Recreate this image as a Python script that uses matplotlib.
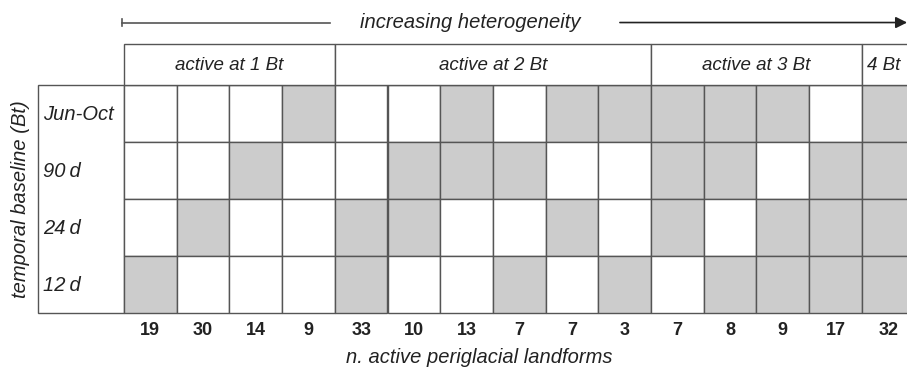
import matplotlib.pyplot as plt
from matplotlib.patches import Rectangle
import numpy as np

plt.rcParams['font.family'] = ['Liberation Sans', 'DejaVu Sans']

# rows (temporal baselines) and per-column counts of active landforms
row_labels = ['Jun-Oct', '90\u2009d', '24\u2009d', '12\u2009d']
counts = [19, 30, 14, 9, 33, 10, 13, 7, 7, 3, 7, 8, 9, 17, 32]

# 1 = active (grey cell), one list per row
active = np.array([
    [0, 0, 0, 1, 0, 0, 1, 0, 1, 1, 1, 1, 1, 0, 1],
    [0, 0, 1, 0, 0, 1, 1, 1, 0, 0, 1, 1, 0, 1, 1],
    [0, 1, 0, 0, 1, 1, 0, 0, 1, 0, 1, 0, 1, 1, 1],
    [1, 0, 0, 0, 1, 0, 0, 1, 0, 1, 0, 1, 1, 1, 1],
])

group_labels = ['active at 1 Bt', 'active at 2 Bt', 'active at 3 Bt', '4 Bt']
group_sizes = [4, 6, 4, 1]

grey = '#cccccc'
edge = '#555555'
txt = '#222222'

fig = plt.figure(figsize=(9.07, 3.70), dpi=100)
ax = fig.add_axes([0, 0, 1, 1])
# one unit = one cell (52.7 x 57 px)
ax.set_xlim(-124 / 52.7, (907 - 124) / 52.7)
ax.set_ylim((370 - 85) / 57, -85 / 57)
ax.axis('off')

n_rows, n_cols = active.shape

# label box on the left
ax.add_patch(Rectangle((-1.632, 0), 1.632, n_rows, facecolor='white',
                       edgecolor=edge, lw=1))
for r, lab in enumerate(row_labels):
    ax.text(-1.54, r + 0.52, lab, ha='left', va='center', fontsize=14.5,
            style='italic', color=txt)

# cells
for r in range(n_rows):
    for c in range(n_cols):
        fc = grey if active[r, c] else 'white'
        ax.add_patch(Rectangle((c, r), 1, 1, facecolor=fc, edgecolor=edge, lw=1))

# header groups
start = 0
for lab, size in zip(group_labels, group_sizes):
    ax.add_patch(Rectangle((start, -0.719), size, 0.719, facecolor='white',
                           edgecolor=edge, lw=1))
    ax.text(start + size / 2 - (0.08 if size == 1 else 0), -0.35, lab,
            ha='center', va='center', fontsize=13.5, style='italic', color=txt)
    start += size

# counts under each column
for c, n in enumerate(counts):
    ax.text(c + 0.5, 4.31, str(n), ha='center', va='center', fontsize=13,
            fontweight='bold', color=txt)

ax.text(6.75, 4.78, 'n. active periglacial landforms', ha='center', va='center',
        fontsize=14.5, style='italic', color=txt)
ax.text(-1.97, 2, 'temporal baseline (Bt)', ha='center', va='center', rotation=90,
        fontsize=14.5, style='italic', color=txt)

# heterogeneity arrow
arrow_y = -1.096
ax.plot([-0.03, 3.91], [arrow_y, arrow_y], color=edge, lw=1.2)
ax.plot([-0.03, -0.03], [arrow_y - 0.06, arrow_y + 0.06], color=edge, lw=1.2)
ax.annotate('', xy=(14.86, arrow_y), xytext=(9.41, arrow_y),
            arrowprops=dict(arrowstyle='-|>', color=txt, lw=1.2,
                            mutation_scale=17, shrinkA=0, shrinkB=0))
ax.text(6.57, arrow_y, 'increasing heterogeneity', ha='center', va='center',
        fontsize=14.5, style='italic', color=txt)

fig.savefig('out.png', dpi=100)
